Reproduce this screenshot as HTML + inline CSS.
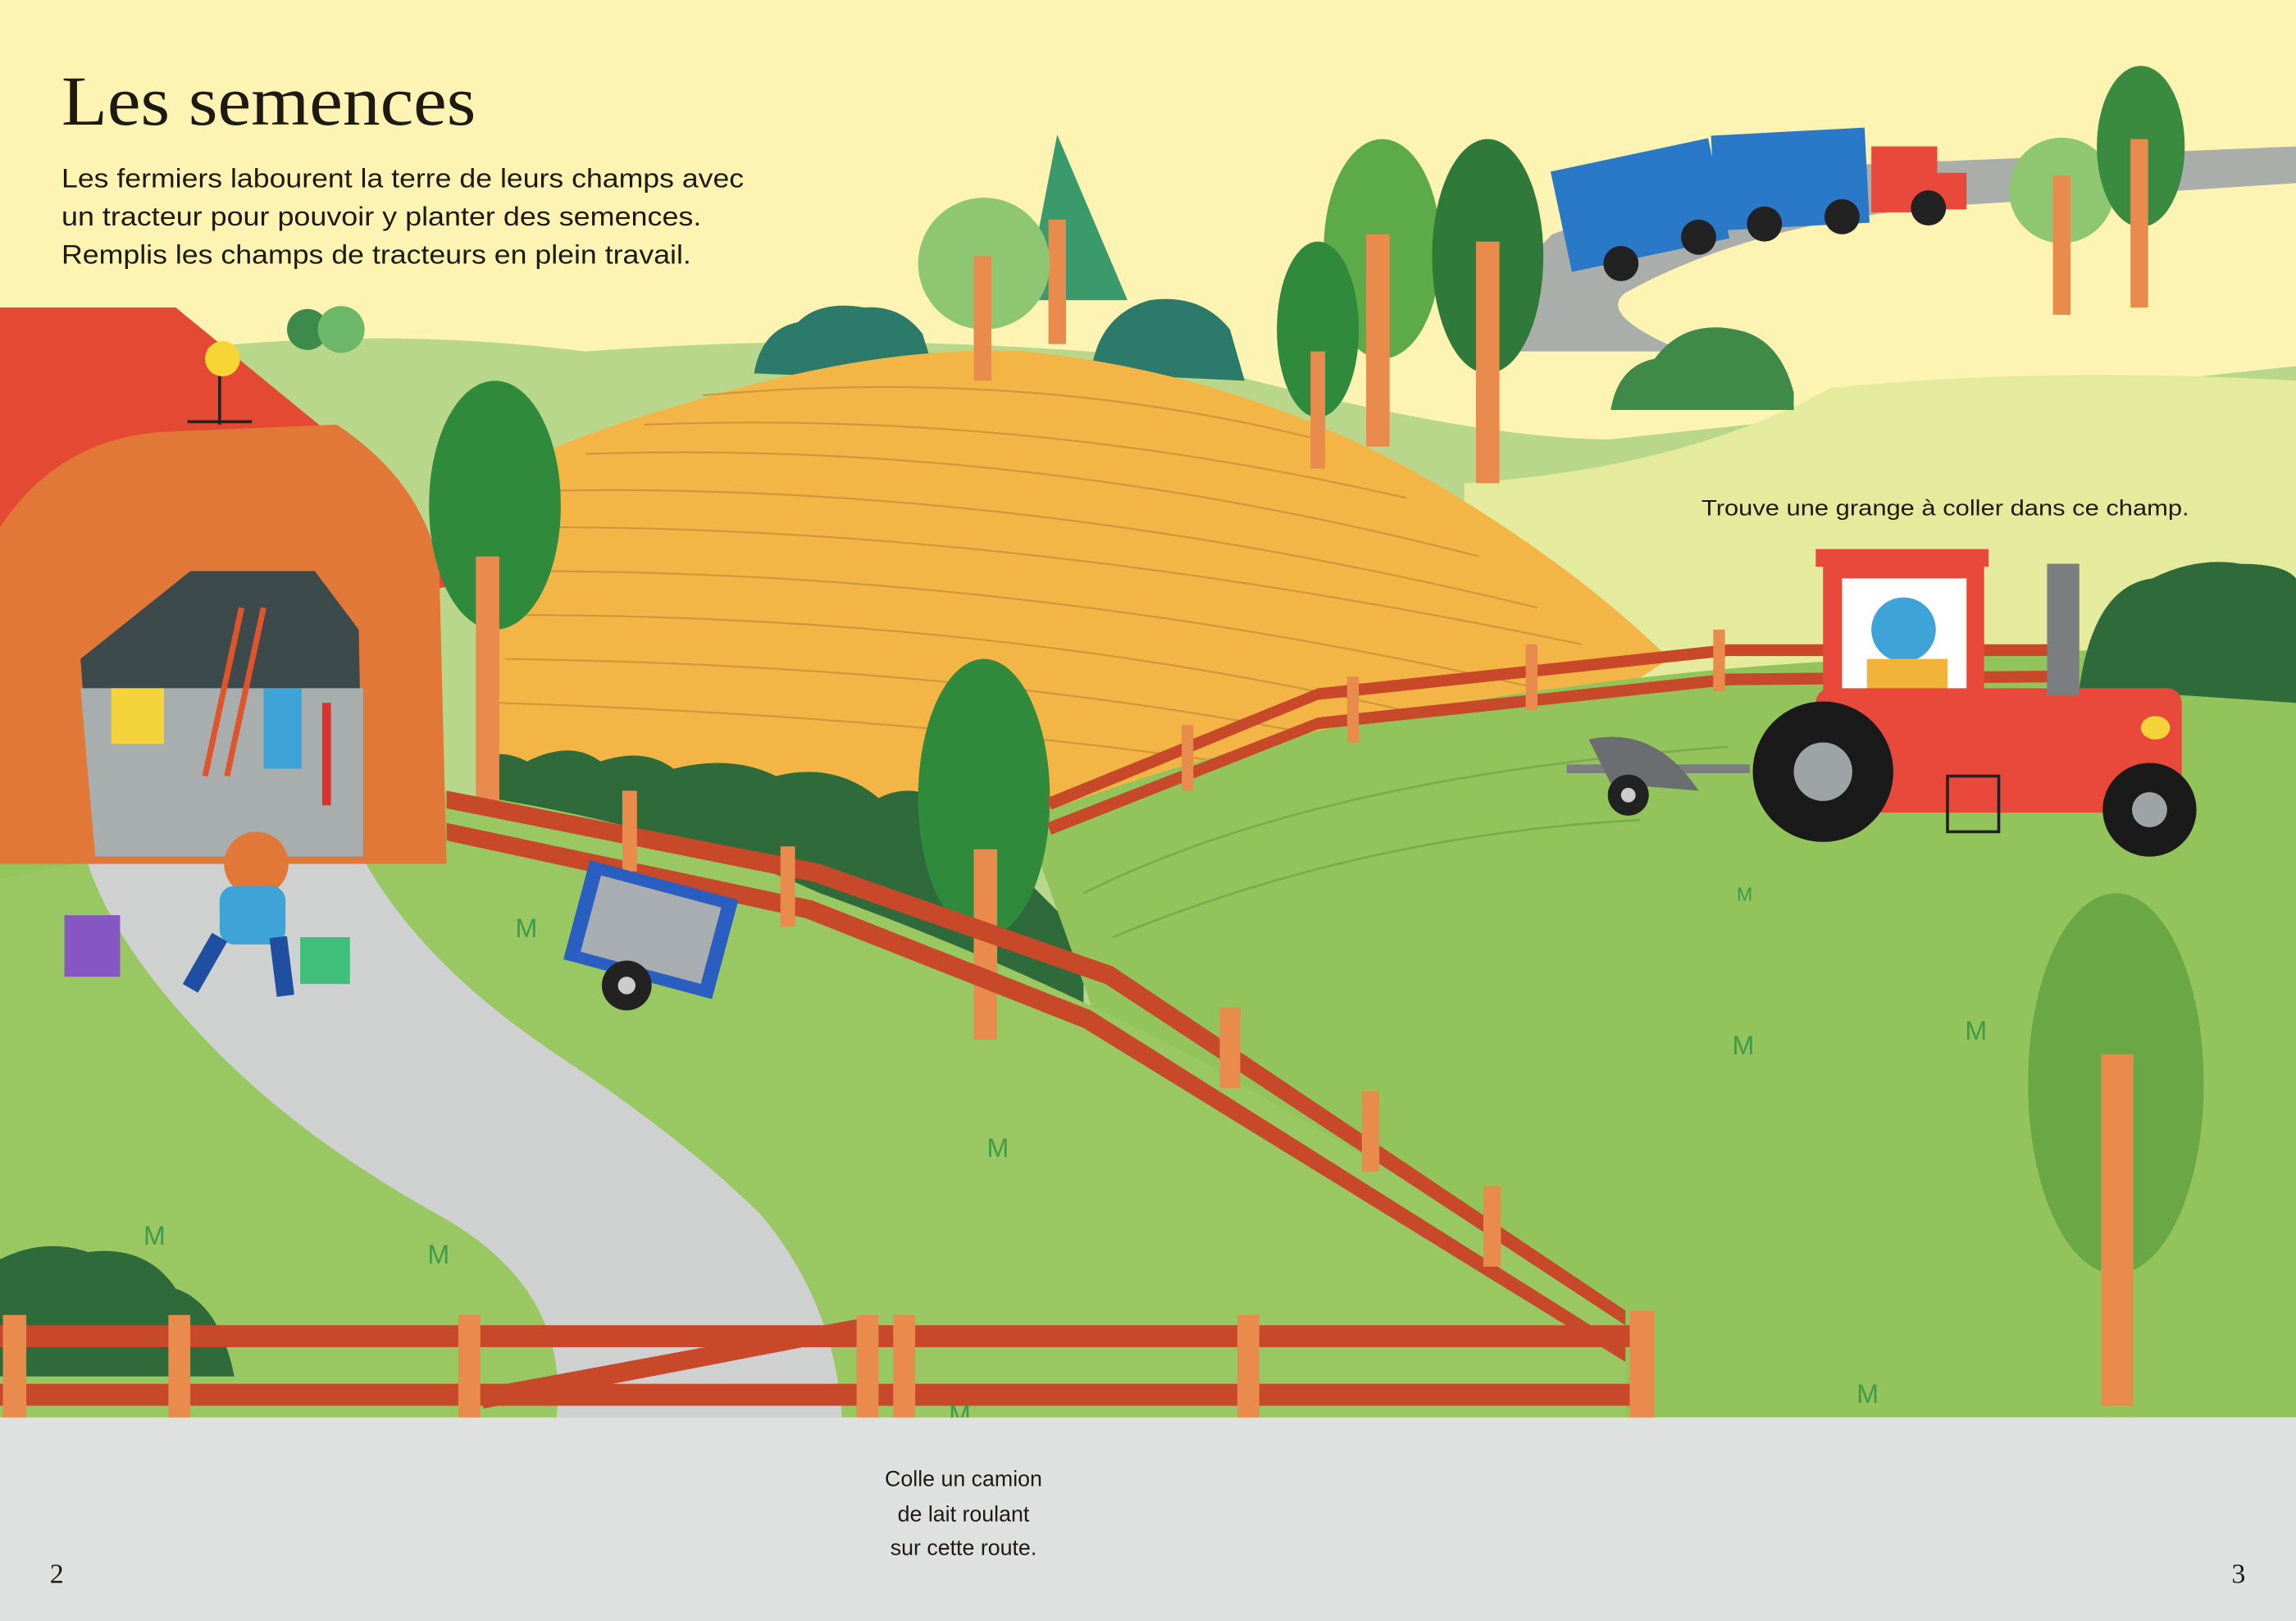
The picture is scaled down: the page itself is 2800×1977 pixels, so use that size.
<!DOCTYPE html>
<html><head><meta charset="utf-8"><style>
html,body{margin:0;padding:0;background:#fdf4b4}
svg{display:block}
.s{font-family:"Liberation Sans",sans-serif}
.r{font-family:"Liberation Serif",serif}
</style></head><body>
<svg width="2800" height="1977" viewBox="0 0 1568 1107" preserveAspectRatio="none" xmlns="http://www.w3.org/2000/svg">
<rect width="1568" height="1107" fill="#fdf4b4"/>
<path d="M0 260 Q200 215 400 240 Q600 225 800 245 Q1000 300 1100 300 L1568 250 L1568 700 L0 700Z" fill="#b8d78a"/>
<path d="M1060 160 Q1200 110 1330 110 L1568 100 L1568 125 L1340 140 Q1200 150 1110 200 Q1090 215 1150 240 L1000 240 Q1030 190 1060 160Z" fill="#a9aeaa"/>
<path d="M1000 330 Q1150 320 1250 265 Q1400 250 1568 260 L1568 700 L1000 700Z" fill="#e4eb9c"/>
<path d="M515 255 Q520 225 545 220 Q560 205 590 210 Q615 208 630 228 L640 260Z" fill="#2c7a6a"/>
<path d="M745 255 Q750 215 785 205 Q820 200 840 225 L850 260Z" fill="#2c7a6a"/>
<path d="M1100 280 Q1105 250 1130 245 Q1150 218 1185 225 Q1215 230 1225 268 L1225 280Z" fill="#3f8a48"/>
<path d="M330 330 Q380 300 470 275 Q600 235 700 240 Q850 255 980 330 Q1080 390 1140 450 L1000 540 L720 590 L380 560 L330 520Z" fill="#f3b545"/>
<g stroke="#c98e3a" stroke-width="1.2" fill="none" opacity="0.8">
<path d="M480 270 Q700 250 900 300"/><path d="M440 290 Q700 280 960 340"/><path d="M400 310 Q700 300 1010 380"/><path d="M380 335 Q700 330 1050 415"/><path d="M370 360 Q700 360 1080 440"/><path d="M360 390 Q700 390 1050 470"/><path d="M350 420 Q700 420 1000 495"/><path d="M345 450 Q700 455 960 515"/><path d="M340 480 Q650 490 900 530"/>
</g>
<path d="M330 520 Q340 510 360 520 Q390 505 410 520 Q440 510 460 525 Q500 515 530 530 Q570 520 600 545 Q630 530 660 560 L700 600 L740 640 L740 700 L330 700Z" fill="#2e6a3a"/>
<path d="M700 560 Q900 480 1200 455 Q1400 440 1568 445 L1568 968 L0 968 L0 590 L330 560 Q480 600 600 640 Q680 660 750 700Z" fill="#93c45c"/>
<path d="M300 540 Q450 560 560 610 Q700 660 830 730 Q950 800 1110 895 L1110 968 L0 968 L0 600Z" fill="#99c862"/>
<path d="M740 610 Q900 530 1180 510" stroke="#7aab4c" stroke-width="1.5" fill="none"/>
<path d="M760 640 Q930 570 1120 560" stroke="#7aab4c" stroke-width="1.5" fill="none"/>
<path d="M1420 470 Q1430 400 1470 395 Q1500 380 1530 385 Q1560 385 1568 395 L1568 480Z" fill="#2e6a3a"/>
<path d="M60 590 L250 590 Q290 660 380 720 Q470 780 520 830 Q570 890 575 968 L380 968 Q390 880 300 830 Q210 780 150 720 Q80 650 60 590Z" fill="#cfd1d0"/>
<path d="M0 860 Q30 845 60 855 Q100 850 120 880 Q150 890 160 940 L0 940Z" fill="#2e6a3a"/>
<path d="M0 210 L120 210 L230 300 L310 400 L0 450Z" fill="#e44a33"/>
<path d="M0 360 Q40 300 110 295 L230 290 Q290 330 300 390 L305 590 L0 590Z" fill="#e27838"/>
<path d="M55 450 L130 390 L215 390 L245 430 L248 585 L65 585Z" fill="#3d4a4c"/>
<path d="M55 470 L248 470 L248 585 L65 585Z" fill="#a8aeae"/>
<rect x="76" y="470" width="36" height="38" fill="#f5d33a"/>
<path d="M140 530 L165 415 M155 530 L180 415" stroke="#e0542c" stroke-width="4"/>
<rect x="180" y="470" width="26" height="55" fill="#3ea3d6"/>
<rect x="220" y="480" width="6" height="70" fill="#d8332e"/>
<path d="M150 250 l0 40 M128 288 l44 0" stroke="#222" stroke-width="2"/>
<circle cx="152" cy="245" r="12" fill="#f7d534"/>
<circle cx="210" cy="225" r="14" fill="#3c8a4c"/><circle cx="233" cy="225" r="16" fill="#6db868"/>
<g>
<ellipse cx="338" cy="345" rx="45" ry="85" fill="#2f8a3c"/><rect x="325" y="380" width="16" height="170" fill="#e98b4c"/>
<polygon points="722,92 700,205 770,205" fill="#3a9a6c"/><rect x="716" y="150" width="12" height="85" fill="#e98b4c"/>
<circle cx="672" cy="180" r="45" fill="#8ec671"/><rect x="665" y="175" width="12" height="85" fill="#e98b4c"/>
<ellipse cx="944" cy="170" rx="40" ry="75" fill="#5daa48"/><rect x="933" y="160" width="16" height="145" fill="#e98b4c"/>
<ellipse cx="1016" cy="175" rx="38" ry="80" fill="#2f7a3a"/><rect x="1008" y="165" width="16" height="165" fill="#e98b4c"/>
<ellipse cx="900" cy="225" rx="28" ry="60" fill="#2f8a3c"/><rect x="895" y="240" width="10" height="80" fill="#e98b4c"/>
<ellipse cx="672" cy="545" rx="45" ry="95" fill="#2f8a3c"/><rect x="665" y="580" width="16" height="130" fill="#e98b4c"/>
<circle cx="1408" cy="130" r="36" fill="#8ec671"/><rect x="1402" y="120" width="12" height="95" fill="#e98b4c"/>
<ellipse cx="1462" cy="100" rx="30" ry="55" fill="#3a8a40"/><rect x="1455" y="95" width="12" height="115" fill="#e98b4c"/>
<ellipse cx="1445" cy="740" rx="60" ry="130" fill="#6aa845"/><rect x="1435" y="720" width="22" height="240" fill="#e98b4c"/>
</g>
<rect x="1065" y="105" width="110" height="70" fill="#2a78c8" transform="rotate(-12 1120 140)"/>
<rect x="1170" y="90" width="105" height="65" fill="#2a78c8" transform="rotate(-3 1220 120)"/>
<rect x="1278" y="100" width="45" height="45" fill="#e8493a"/><rect x="1318" y="118" width="25" height="25" fill="#e8493a"/>
<circle cx="1107" cy="180" r="12" fill="#222"/><circle cx="1160" cy="162" r="12" fill="#222"/><circle cx="1205" cy="153" r="12" fill="#222"/><circle cx="1258" cy="148" r="12" fill="#222"/><circle cx="1317" cy="142" r="12" fill="#222"/>
<g fill="#c7492a">
<path d="M305 540 L560 590 L760 660 L1110 895 L1110 905 L755 672 L555 602 L305 552Z"/>
<path d="M305 562 L555 615 L745 690 L1110 920 L1110 930 L740 702 L550 627 L305 574Z"/>
<path d="M715 545 L900 470 L1180 440 L1400 440 L1400 448 L1180 448 L900 478 L718 553Z"/>
<path d="M715 562 L900 490 L1180 460 L1400 458 L1400 466 L1180 468 L900 498 L718 570Z"/>
</g>
<g fill="#e98b4c">
<rect x="425" y="540" width="10" height="55"/><rect x="533" y="578" width="10" height="55"/><rect x="833" y="688" width="14" height="55"/><rect x="930" y="745" width="12" height="55"/><rect x="1013" y="810" width="12" height="55"/>
<rect x="807" y="495" width="8" height="45"/><rect x="920" y="462" width="8" height="45"/><rect x="1042" y="440" width="8" height="45"/><rect x="1170" y="430" width="8" height="42"/>
</g>
<g fill="#c7492a">
<rect x="0" y="905" width="1120" height="15"/><rect x="0" y="945" width="1120" height="15"/>
<path d="M330 948 L590 900 L590 912 L330 962Z"/>
</g>
<g fill="#e98b4c">
<rect x="2" y="898" width="16" height="72"/><rect x="115" y="898" width="15" height="72"/><rect x="313" y="898" width="15" height="72"/><rect x="585" y="898" width="15" height="72"/><rect x="610" y="898" width="15" height="72"/><rect x="845" y="898" width="15" height="72"/><rect x="1113" y="895" width="17" height="75"/>
</g>
<rect x="392" y="600" width="105" height="70" fill="#2a5ec0" transform="rotate(15 445 635)"/>
<rect x="402" y="608" width="85" height="54" fill="#a7adb0" transform="rotate(15 445 635)"/>
<circle cx="428" cy="673" r="17" fill="#222"/><circle cx="428" cy="673" r="6" fill="#ccc"/>
<circle cx="175" cy="590" r="22" fill="#e27838"/>
<rect x="150" y="605" width="45" height="40" rx="10" fill="#3ea3d6"/>
<path d="M150 640 L130 675 M190 640 L195 680" stroke="#1f4fa0" stroke-width="12"/>
<rect x="205" y="640" width="34" height="32" fill="#3fbf7a"/>
<rect x="44" y="625" width="38" height="42" fill="#8656c2"/>
<rect x="1240" y="375" width="118" height="12" fill="#e8493a"/>
<rect x="1245" y="385" width="110" height="110" fill="#e8493a"/>
<rect x="1258" y="395" width="85" height="80" fill="#fff"/>
<circle cx="1300" cy="430" r="22" fill="#3ea3d6"/>
<rect x="1275" y="450" width="55" height="30" fill="#f2b33a"/>
<rect x="1240" y="470" width="250" height="85" rx="10" fill="#e8493a"/>
<rect x="1398" y="385" width="22" height="90" fill="#7a7e80"/>
<ellipse cx="1472" cy="497" rx="10" ry="8" fill="#f5d33a"/>
<rect x="1330" y="530" width="35" height="38" fill="none" stroke="#222" stroke-width="2"/>
<circle cx="1245" cy="527" r="48" fill="#1a1a1a"/><circle cx="1245" cy="527" r="20" fill="#9ea3a5"/>
<circle cx="1468" cy="553" r="32" fill="#1a1a1a"/><circle cx="1468" cy="553" r="12" fill="#9ea3a5"/>
<path d="M1070 525 L1195 525" stroke="#7a7e80" stroke-width="6"/>
<path d="M1085 505 Q1130 495 1160 540 L1100 535Z" fill="#6a6e70"/>
<circle cx="1112" cy="543" r="14" fill="#222"/><circle cx="1112" cy="543" r="5" fill="#ccc"/>
<g class="s" font-size="18" fill="#3f9a4a"><text x="352" y="640">M</text><text x="674" y="790">M</text><text x="98" y="850">M</text><text x="292" y="863">M</text><text x="1183" y="720">M</text><text x="1342" y="710">M</text><text x="1268" y="958">M</text><text x="648" y="972">M</text><text x="1186" y="615" font-size="13">M</text></g>
<rect x="0" y="968" width="1568" height="139" fill="#dfe1e1"/>
<text class="r" x="42" y="85" font-size="48" fill="#1e1a12" textLength="283" lengthAdjust="spacingAndGlyphs">Les semences</text>
<g class="s" font-size="18" fill="#1e1a12">
<text x="42" y="128" textLength="466" lengthAdjust="spacingAndGlyphs">Les fermiers labourent la terre de leurs champs avec</text>
<text x="42" y="154" textLength="437" lengthAdjust="spacingAndGlyphs">un tracteur pour pouvoir y planter des semences.</text>
<text x="42" y="180" textLength="430" lengthAdjust="spacingAndGlyphs">Remplis les champs de tracteurs en plein travail.</text>
</g>
<text class="s" x="1162" y="352" font-size="15" fill="#1e1a12" textLength="333" lengthAdjust="spacingAndGlyphs">Trouve une grange à coller dans ce champ.</text>
<g class="s" font-size="15" fill="#1e1a12" text-anchor="middle">
<text x="658" y="1015">Colle un camion</text>
<text x="658" y="1039">de lait roulant</text>
<text x="658" y="1062">sur cette route.</text>
</g>
<text class="r" x="34" y="1081" font-size="19" fill="#1e1a12">2</text>
<text class="r" x="1524" y="1081" font-size="19" fill="#1e1a12">3</text>
</svg>
</body></html>
